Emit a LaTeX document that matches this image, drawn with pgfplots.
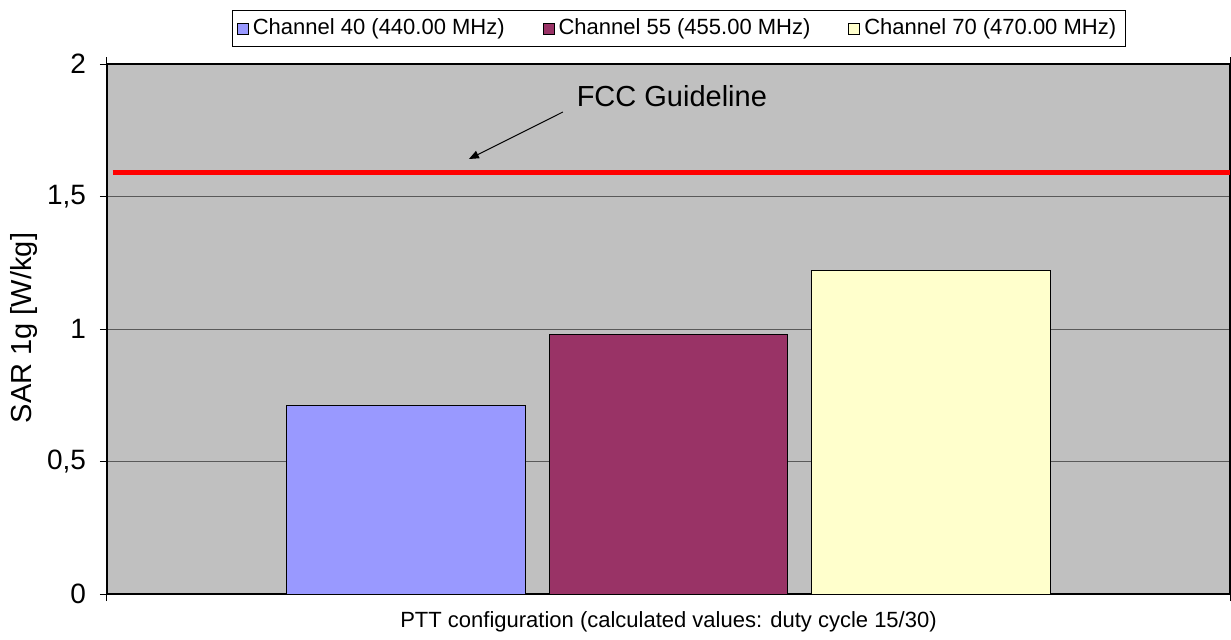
\documentclass[border=0pt]{standalone}
\usepackage{fontspec}
\setmainfont{Liberation Sans}
\usepackage{pgfplots}
\pgfplotsset{compat=1.18}
\usetikzlibrary{arrows.meta}
\definecolor{plotbg}{HTML}{C0C0C0}
\definecolor{ch40}{HTML}{9999FF}
\definecolor{ch55}{HTML}{993366}
\definecolor{ch70}{HTML}{FFFFCC}
\begin{document}
\begin{tikzpicture}
\path[use as bounding box] (-53.5pt,-22.5pt) rectangle (562pt,297pt);
\begin{axis}[
 at={(0,0)}, anchor=south west,
 scale only axis, width=561.5pt, height=265pt,
 xmin=-0.5, xmax=0.5, ymin=0, ymax=2,
 axis background/.style={fill=plotbg},
 axis line style={black, line width=1.4pt},
 ytick={0,0.5,1,1.5,2},
 xtick={-0.5,0.5}, xticklabels={},
 tick align=outside, major tick length=3.5pt,
 tick style={black, line width=0.5pt},
 ymajorgrids, grid style={black!65, line width=0.5pt},
 /pgf/number format/.cd, use comma, assume math mode=true, /pgfplots/.cd,
 yticklabel style={font=\fontsize{14}{16}\selectfont, xshift=-3.5pt},
 ylabel={SAR 1g [W/kg]},
 ylabel style={font=\fontsize{14.5}{17}\selectfont, at={(axis description cs:-0.0739,0.502)}, anchor=center},
 xlabel={PTT configuration (calculated values: duty cycle 15/30)},
 xlabel style={font=\fontsize{11}{13}\selectfont, at={(axis description cs:0.5,-0.053)}, anchor=center},
 legend columns=3,
 legend style={at={(axis description cs:0.509,1.067)}, anchor=center, draw=black, fill=white, line width=0.5pt, font=\fontsize{11}{13}\selectfont, /tikz/every even column/.append style={column sep=17pt}, inner sep=2.5pt},
 legend image code/.code={\draw[#1, draw=black, line width=0.4pt] (0pt,-2.75pt) rectangle (5.5pt,2.75pt);},
]
\addplot[ybar, bar width=0.2128, bar shift=0pt, fill=ch40, draw=black, line width=0.5pt] coordinates {(-0.234,0.71)};
\addlegendentry{Channel 40 (440.00 MHz)}
\addplot[ybar, bar width=0.2128, bar shift=0pt, fill=ch55, draw=black, line width=0.5pt] coordinates {(0,0.98)};
\addlegendentry{Channel 55 (455.00 MHz)}
\addplot[ybar, bar width=0.2128, bar shift=0pt, fill=ch70, draw=black, line width=0.5pt] coordinates {(0.234,1.22)};
\addlegendentry{Channel 70 (470.00 MHz)}
\addplot[red, line width=2.25pt, forget plot] coordinates {(-0.495,1.59) (0.5,1.59)};
\draw[-{Triangle[length=5pt,width=4pt]}, line width=0.5pt] (axis cs:-0.094,1.819) -- (axis cs:-0.1777,1.6415);
\node[font=\fontsize{14.5}{17}\selectfont] at (axis cs:0.003,1.879) {FCC Guideline};
\end{axis}
\end{tikzpicture}
\end{document}
